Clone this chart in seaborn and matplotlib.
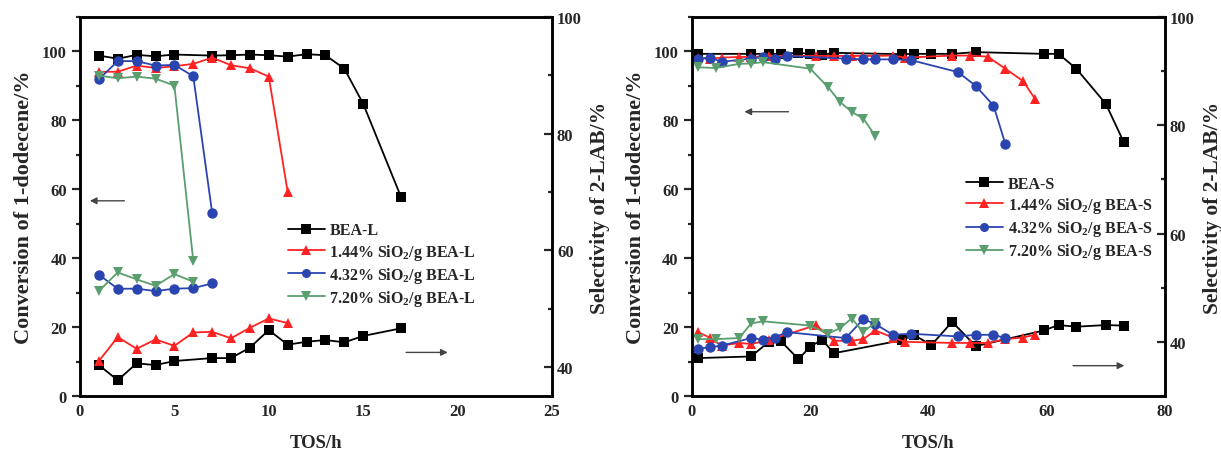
import numpy as np
import pandas as pd
import matplotlib
matplotlib.use("Agg")
import matplotlib.pyplot as plt
from matplotlib.ticker import MultipleLocator
from matplotlib.lines import Line2D
import seaborn as sns

sns.set_theme(style="white")
plt.rcParams['font.family'] = ['Liberation Serif', 'DejaVu Serif']
plt.rcParams['font.weight'] = 'bold'
plt.rcParams['mathtext.fontset'] = 'custom'
plt.rcParams['mathtext.rm'] = 'Liberation Serif:bold'
plt.rcParams['mathtext.bf'] = 'Liberation Serif:bold'
plt.rcParams['mathtext.default'] = 'bf'

# ---------------- data: left panel (BEA-L) ----------------
L_labels = ["BEA-L", "1.44% SiO$_2$/g BEA-L", "4.32% SiO$_2$/g BEA-L", "7.20% SiO$_2$/g BEA-L"]
L0_x = [1, 2, 3, 4, 5, 7, 8, 9, 10, 11, 12, 13, 14, 15, 17]
L0_conv = [98.8, 97.9, 99.0, 98.6, 99.1, 98.8, 98.9, 99.1, 98.9, 98.5, 99.2, 98.9, 95.0, 84.8, 57.8]
L0_sel = [40.3, 37.7, 40.6, 40.3, 41.0, 41.5, 41.5, 43.3, 46.3, 43.8, 44.3, 44.6, 44.2, 45.3, 46.6]
L1_x = [1, 2, 3, 4, 5, 6, 7, 8, 9, 10, 11]
L1_conv = [94.1, 94.1, 95.9, 95.2, 95.7, 96.4, 98.2, 96.0, 95.1, 92.7, 59.2]
L1_sel = [41.0, 45.1, 43.1, 44.7, 43.6, 45.9, 46.0, 44.9, 46.7, 48.3, 47.5]
L2_x = [1, 2, 3, 4, 5, 6, 7]
L2_conv = [91.9, 97.2, 97.2, 95.9, 96.1, 92.8, 53.2]
L2_sel = [55.8, 53.4, 53.4, 53.0, 53.4, 53.5, 54.3]
L3_x = [1, 2, 3, 4, 5, 6]
L3_conv = [93.0, 92.2, 92.7, 92.1, 90.1, 39.2]
L3_sel = [53.0, 56.2, 55.0, 53.9, 55.9, 54.6]

# ---------------- data: right panel (BEA-S) ----------------
S_labels = ["BEA-S", "1.44% SiO$_2$/g BEA-S", "4.32% SiO$_2$/g BEA-S", "7.20% SiO$_2$/g BEA-S"]
S0_x = [1, 10, 13, 15, 18, 20, 22, 24, 35.5, 37.5, 40.5, 44, 48, 59.5, 62, 65, 70, 73]
S0_conv = [99.3, 99.3, 99.3, 99.3, 99.6, 99.3, 99.0, 99.6, 99.2, 99.3, 99.3, 99.3, 99.8, 99.3, 99.3, 95.0, 84.8, 73.8]
S0_sel = [37.0, 37.3, 40.0, 40.2, 36.8, 39.1, 40.4, 37.9, 40.3, 41.3, 39.4, 43.7, 39.2, 42.1, 43.1, 42.8, 43.1, 43.0]
S1_x = [1, 3, 5, 8, 10, 13, 21, 24, 27, 29, 31, 34, 36, 44, 47, 50, 53, 56, 58]
S1_conv = [98.2, 97.9, 98.2, 98.4, 98.4, 98.7, 98.7, 98.7, 98.7, 98.7, 98.7, 98.8, 98.2, 98.8, 98.8, 98.5, 95.0, 91.4, 86.3]
S1_sel = [41.8, 40.8, 39.3, 39.8, 39.6, 40.3, 43.1, 40.2, 40.2, 40.5, 42.1, 40.8, 40.0, 39.8, 39.8, 39.8, 40.5, 40.8, 41.3]
S2_x = [1, 3, 5, 10, 12, 14, 16, 26, 29, 31, 34, 37, 45, 48, 51, 53]
S2_conv = [97.7, 98.2, 97.0, 97.9, 98.4, 97.9, 98.7, 97.9, 97.7, 97.7, 97.7, 97.5, 94.0, 90.0, 84.3, 73.2]
S2_sel = [38.7, 39.0, 39.3, 40.7, 40.4, 40.8, 41.8, 40.7, 44.2, 43.3, 41.3, 41.5, 41.0, 41.3, 41.3, 40.7]
S3_x = [1, 4, 8, 10, 12, 20, 23, 25, 27, 29, 31]
S3_conv = [95.4, 95.2, 96.4, 96.5, 96.9, 95.0, 89.7, 85.4, 82.5, 80.5, 75.5]
S3_sel = [40.5, 40.5, 40.7, 43.4, 43.8, 43.0, 41.5, 42.5, 44.3, 41.9, 43.5]

colors = ["#000000", "#ff2222", "#2b45b0", "#5a9e6e"]
markers = ["s", "^", "o", "v"]

fig = plt.figure(figsize=(12.21, 4.52), dpi=100)
axL = fig.add_axes([0.0655, 0.1217, 0.3866, 0.8385])
axS = fig.add_axes([0.5667, 0.1217, 0.3874, 0.8385])


def draw_panel(ax, labels, series, xlim, xmaj, xmin, ylim2):
    ax2 = ax.twinx()
    handles = []
    for i, (x, conv, sel) in enumerate(series):
        df = pd.DataFrame({"TOS": x, "conv": conv, "sel": sel})
        kw = dict(color=colors[i], marker=markers[i], markersize=7.5,
                  markeredgewidth=0, linewidth=1.3, sort=False, legend=False)
        sns.lineplot(data=df, x="TOS", y="conv", ax=ax, **kw)
        sns.lineplot(data=df, x="TOS", y="sel", ax=ax2, **kw)
        handles.append(Line2D([], [], color=colors[i], marker=markers[i],
                              markersize=6.5, markeredgewidth=0, linewidth=1.3,
                              label=labels[i]))
    ax.set_xlim(*xlim)
    ax.set_ylim(0, 110)
    ax2.set_ylim(*ylim2)
    ax.xaxis.set_major_locator(MultipleLocator(xmaj))
    ax.xaxis.set_minor_locator(MultipleLocator(xmin))
    ax.yaxis.set_major_locator(MultipleLocator(20))
    ax.yaxis.set_minor_locator(MultipleLocator(10))
    ax2.yaxis.set_major_locator(MultipleLocator(20))
    ax2.yaxis.set_minor_locator(MultipleLocator(10))
    ax.set_xlabel("TOS/h", fontsize=13.5, fontweight="bold", labelpad=11)
    ax.set_ylabel("Conversion of 1-dodecene/%", fontsize=16, fontweight="bold", labelpad=6)
    ax2.set_ylabel("Selectivity of 2-LAB/%", fontsize=15.5, fontweight="bold", labelpad=6)
    ax.tick_params(axis="x", which="both", direction="in", labelsize=12, width=1.6, pad=5)
    ax.tick_params(axis="x", which="major", length=6)
    ax.tick_params(axis="x", which="minor", length=3)
    ax.tick_params(axis="y", which="both", direction="out", labelsize=12, width=1.6, left=True)
    ax.tick_params(axis="y", which="major", length=6)
    ax.tick_params(axis="y", which="minor", length=3)
    ax2.tick_params(axis="y", which="both", direction="in", labelsize=12, width=1.6, right=True)
    ax2.tick_params(axis="y", which="major", length=6)
    ax2.tick_params(axis="y", which="minor", length=3)
    for a in (ax, ax2):
        for sp in a.spines.values():
            sp.set_linewidth(1.8)
            sp.set_color("black")
        for t in a.get_xticklabels() + a.get_yticklabels():
            t.set_fontweight("bold")
    return ax2, handles


seriesL = [(L0_x, L0_conv, L0_sel), (L1_x, L1_conv, L1_sel), (L2_x, L2_conv, L2_sel), (L3_x, L3_conv, L3_sel)]
seriesS = [(S0_x, S0_conv, S0_sel), (S1_x, S1_conv, S1_sel), (S2_x, S2_conv, S2_sel), (S3_x, S3_conv, S3_sel)]

axL2, hL = draw_panel(axL, L_labels, seriesL, (0, 25), 5, 2.5, (35, 100))
axS2, hS = draw_panel(axS, S_labels, seriesS, (0, 80), 20, 10, (30, 100))

legkw = dict(frameon=False, fontsize=11.5, handlelength=2.3, handletextpad=0.3,
             labelspacing=0.2, borderaxespad=0.0)
axL2.legend(handles=hL, loc="upper left", bbox_to_anchor=(0.427, 0.475), **legkw)
axS2.legend(handles=hS, loc="upper left", bbox_to_anchor=(0.566, 0.598), **legkw)

arrow = dict(arrowstyle="-|>", color="#444444", lw=1.0, mutation_scale=10)
axL.annotate("", xy=(0.015, 0.515), xytext=(0.1, 0.515), xycoords="axes fraction", arrowprops=arrow)
axL.annotate("", xy=(0.785, 0.115), xytext=(0.685, 0.115), xycoords="axes fraction", arrowprops=arrow)
axS.annotate("", xy=(0.105, 0.75), xytext=(0.21, 0.75), xycoords="axes fraction", arrowprops=arrow)
axS.annotate("", xy=(0.92, 0.08), xytext=(0.8, 0.08), xycoords="axes fraction", arrowprops=arrow)

fig.savefig("out.png", dpi=100)
